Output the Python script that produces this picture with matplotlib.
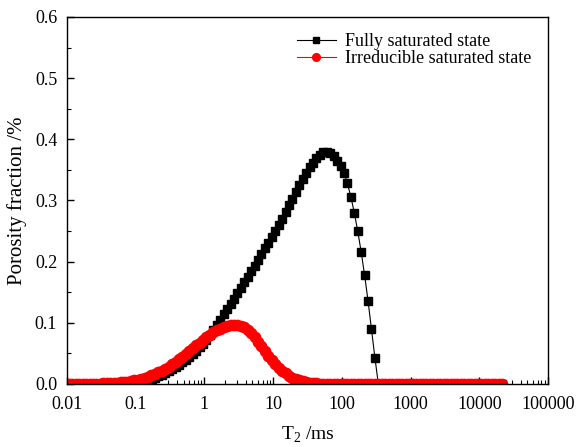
import matplotlib
matplotlib.use("Agg")
import matplotlib.pyplot as plt
import numpy as np
from matplotlib.ticker import FixedLocator, LogLocator, MultipleLocator, NullFormatter

plt.rcParams.update({
    "font.family": "Liberation Serif", "font.size": 13,
    "mathtext.fontset": "custom", "mathtext.rm": "Liberation Serif",
    "axes.linewidth": 1.0, "xtick.direction": "in", "ytick.direction": "in",
})

# T2 bins of the NMR inversion (128 log-spaced bins, ms)
T2 = np.logspace(-2.02, 4.33, 128)

fully_saturated = [
    0, 0, 0, 0, 0, 0, 0, 0, 0, 0, 0, 0,
    0.0001, 0.0002, 0.0003, 0.0004, 0.0006, 0.0009, 0.0012, 0.0017,
    0.0023, 0.0031, 0.0040, 0.0052, 0.0065, 0.0081, 0.0100, 0.0123,
    0.0150, 0.0179, 0.0210, 0.0244, 0.0280, 0.0318, 0.0358, 0.0400,
    0.0445, 0.0492, 0.0545, 0.0600, 0.0660, 0.0725, 0.0800, 0.0885,
    0.097, 0.105, 0.114, 0.122, 0.130, 0.139, 0.148, 0.157,
    0.166, 0.175, 0.184, 0.193, 0.202, 0.212, 0.222, 0.231,
    0.241, 0.250, 0.260, 0.270, 0.281, 0.292, 0.303, 0.314,
    0.325, 0.335, 0.345, 0.354, 0.362, 0.369, 0.375, 0.379,
    0.380, 0.378, 0.372, 0.365, 0.356, 0.345, 0.328, 0.306,
    0.280, 0.250, 0.216, 0.178, 0.136, 0.090, 0.043,
] + [0] * 37

irreducible_saturated = [
    0.0000, 0.0001, 0.0001, 0.0001, 0.0001, 0.0002, 0.0002, 0.0003,
    0.0004, 0.0005, 0.0006, 0.0008, 0.0010, 0.0013, 0.0017, 0.0021,
    0.0026, 0.0032, 0.0040, 0.0048, 0.0059, 0.0071, 0.0085, 0.0100,
    0.0119, 0.0139, 0.0163, 0.0189, 0.0218, 0.0249, 0.0283, 0.0320,
    0.0359, 0.0401, 0.0445, 0.0490, 0.0536, 0.0583, 0.0630, 0.0677,
    0.0722, 0.0765, 0.0806, 0.0843, 0.0877, 0.0906, 0.0931, 0.0949,
    0.0962, 0.0969, 0.0969, 0.0954, 0.0925, 0.0881, 0.0826, 0.0761,
    0.0690, 0.0615, 0.0539, 0.0465, 0.0394, 0.0328, 0.0269, 0.0217,
    0.0172, 0.0134, 0.0103, 0.0078, 0.0058, 0.0042, 0.0030, 0.0021,
    0.0015, 0.0010, 0.0007, 0.0004, 0.0003, 0.0002, 0.0001,
] + [0] * 49

xtick_vals = [0.01, 0.1, 1, 10, 100, 1000, 10000, 100000]
xtick_labels = ["0.01", "0.1", "1", "10", "100", "1000", "10000", "100000"]
ytick_vals = [0.0, 0.1, 0.2, 0.3, 0.4, 0.5, 0.6]

fig = plt.figure(figsize=(5.77, 4.47), dpi=100)
ax = fig.add_axes([0.116, 0.141, 0.834, 0.821])

ax.plot(T2, fully_saturated, color="black", lw=0.8, marker="s", ms=5.8,
        mec="black", mfc="black", label="Fully saturated state")
ax.plot(T2, irreducible_saturated, color="red", lw=0.8, marker="o", ms=7.4,
        mec="red", mfc="red", label="Irreducible saturated state")

ax.set_xscale("log")
ax.set_xlim(0.01, 100000)
ax.set_ylim(0, 0.6)
ax.xaxis.set_major_locator(FixedLocator(xtick_vals))
ax.set_xticklabels(xtick_labels)
ax.xaxis.set_minor_locator(LogLocator(base=10, subs=np.arange(2, 10), numticks=20))
ax.xaxis.set_minor_formatter(NullFormatter())
ax.set_yticks(ytick_vals)
ax.set_yticklabels([f"{v:.1f}" for v in ytick_vals])
ax.yaxis.set_minor_locator(MultipleLocator(0.05))
ax.tick_params(which="major", length=5, width=1.0)
ax.tick_params(axis="x", which="major", pad=9)
ax.tick_params(axis="y", which="major", pad=7)
ax.tick_params(which="minor", length=3, width=0.8)

ax.set_xlabel(r"T$_\mathregular{2}$ /ms", fontsize=14, labelpad=8)
ax.set_ylabel("Porosity fraction /%", fontsize=15, labelpad=6)

ax.legend(loc="upper right", frameon=False, handlelength=2.2, labelspacing=0.0,
          handletextpad=0.5, borderaxespad=0.3, bbox_to_anchor=(0.992, 0.99),
          numpoints=1, markerscale=0.75, fontsize=13)

fig.savefig("out.png", dpi=100)
